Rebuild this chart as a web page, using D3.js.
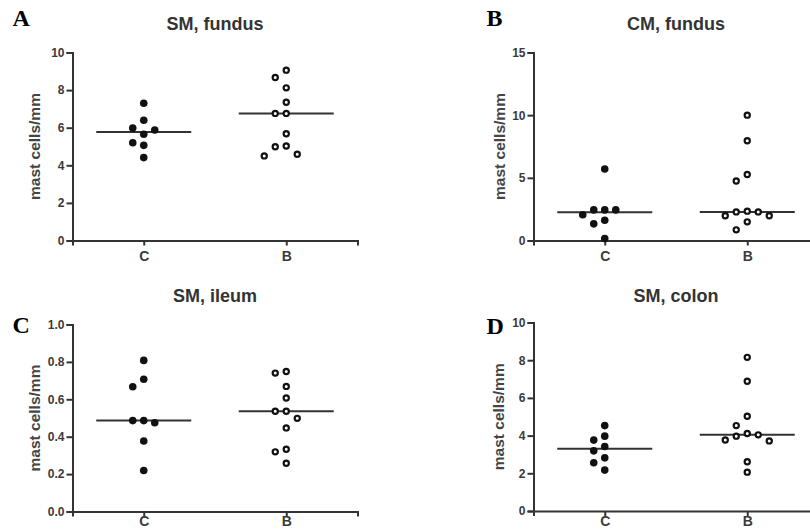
<!DOCTYPE html>
<html>
<head>
<meta charset="utf-8">
<script src="https://cdn.jsdelivr.net/npm/d3@7"></script>
<style>
  body { margin: 0; background: #fff; }
  svg { display: block; }
</style>
</head>
<body>
<svg id="chart" width="810" height="532"></svg>
<script>
// groups on the x axis
var groups = ["C", "B"];
var panelLetters = ["A", "B", "C", "D"];
var panelTitles = ["SM, fundus", "CM, fundus", "SM, ileum", "SM, colon"];
var yLabel = "mast cells/mm";

// tick labels for each y axis
var ticksSmFundus = [0, 2, 4, 6, 8, 10];
var ticksCmFundus = [0, 5, 10, 15];
var ticksSmIleum = [0, 0.2, 0.4, 0.6, 0.8, 1.0];
var ticksSmColon = [0, 2, 4, 6, 8, 10];

// values (mast cells/mm)
var smFundusC = [7.3, 6.4, 5.98, 5.88, 5.65, 5.2, 5.06, 4.41];
var smFundusB = [9.06, 8.67, 8.12, 7.35, 6.76, 6.76, 5.68, 5.03, 4.99, 4.59, 4.5];
var cmFundusC = [5.71, 2.44, 2.44, 2.44, 2.05, 1.62, 1.33, 0.16];
var cmFundusB = [10.0, 7.96, 5.26, 4.75, 2.34, 2.28, 2.28, 1.97, 1.97, 1.49, 0.85];
var smIleumC = [0.808, 0.707, 0.667, 0.486, 0.486, 0.475, 0.377, 0.219];
var smIleumB = [0.749, 0.74, 0.669, 0.607, 0.536, 0.536, 0.498, 0.447, 0.333, 0.319, 0.258];
var smColonC = [4.53, 3.97, 3.76, 3.42, 3.19, 2.82, 2.56, 2.17];
var smColonB = [8.15, 6.88, 5.03, 4.53, 4.11, 4.04, 3.97, 3.77, 3.72, 2.61, 2.06];

var svg = d3.select("#chart");
svg.append("rect").attr("width", 810).attr("height", 532).attr("fill", "#fff");

// panel layout
var panels = [
  { letter: panelLetters[0], title: panelTitles[0], c: smFundusC, b: smFundusB, ticks: ticksSmFundus, fmt: d3.format("d"),
    x0: 72.5, top: 52.5, bottom: 240.5, titleY: 29.5, letterX: 12.5, letterY: 26, labelDx: -32.5, xPad: 6 },
  { letter: panelLetters[1], title: panelTitles[1], c: cmFundusC, b: cmFundusB, ticks: ticksCmFundus, fmt: d3.format("d"),
    x0: 533.5, top: 52.5, bottom: 240.5, titleY: 29.5, letterX: 486.5, letterY: 26, labelDx: -29, xPad: 6 },
  { letter: panelLetters[2], title: panelTitles[2], c: smIleumC, b: smIleumB, ticks: ticksSmIleum, fmt: d3.format(".1f"),
    x0: 72.5, top: 324.5, bottom: 511.5, titleY: 302, letterX: 12.5, letterY: 332.5, labelDx: -32.5, xPad: 0 },
  { letter: panelLetters[3], title: panelTitles[3], c: smColonC, b: smColonB, ticks: ticksSmColon, fmt: d3.format("d"),
    x0: 533.5, top: 322.5, bottom: 511, titleY: 302, letterX: 486.5, letterY: 334, labelDx: -30, xPad: 0 }
];

var axisWidth = 285,
  jitterStep = 11,
  minGap = 10;

// simple beeswarm: put each point in the nearest free column
function swarm(values, y) {
  var order = values.map(function(v, i) { return { v: v, i: i }; })
    .sort(function(a, b) { return b.v - a.v; });
  var placed = [];
  var slots = [];
  var tryOrder = [0, -1, 1, -2, 2, -3, 3];
  order.forEach(function(p) {
    var py = y(p.v);
    var s = tryOrder.find(function(k) {
      return !placed.some(function(q) { return q.slot === k && Math.abs(q.py - py) < minGap; });
    });
    placed.push({ py: py, slot: s });
    slots[p.i] = s;
  });
  return slots;
}

panels.forEach(function(p) {
  var g = svg.append("g");

  var x = d3.scalePoint().domain(groups).range([p.x0, p.x0 + axisWidth]).padding(0.5);
  var y = d3.scaleLinear().domain([0, d3.max(p.ticks)]).range([p.bottom, p.top]);

  // y axis
  var yAxis = g.append("g")
    .attr("transform", "translate(" + p.x0 + ",0)")
    .call(d3.axisLeft(y).tickValues(p.ticks).tickFormat(p.fmt).tickSizeOuter(0).tickSize(6).tickPadding(2));

  // x axis
  var xAxis = g.append("g")
    .attr("transform", "translate(0," + p.bottom + ")")
    .call(d3.axisBottom(x).tickSizeOuter(0).tickSize(5).tickPadding(p.xPad));

  [yAxis, xAxis].forEach(function(a) {
    a.select(".domain").attr("stroke", "#333").attr("stroke-width", 2);
    a.selectAll(".tick line").attr("stroke", "#333").attr("stroke-width", 2);
    a.selectAll(".tick text")
      .attr("fill", "#3a3a3a")
      .attr("font-family", "'Liberation Sans', Arial, sans-serif")
      .attr("font-weight", "bold");
  });
  yAxis.selectAll(".tick text").attr("font-size", 12);
  xAxis.selectAll(".tick text").attr("font-size", 14);

  // title
  g.append("text")
    .attr("x", p.x0 + axisWidth / 2)
    .attr("y", p.titleY)
    .attr("text-anchor", "middle")
    .attr("font-family", "'Liberation Sans', Arial, sans-serif")
    .attr("font-weight", "bold")
    .attr("font-size", 18)
    .attr("fill", "#333")
    .text(p.title);

  // panel letter
  g.append("text")
    .attr("x", p.letterX)
    .attr("y", p.letterY)
    .attr("font-family", "'Liberation Serif', 'Times New Roman', serif")
    .attr("font-weight", "bold")
    .attr("font-size", 24)
    .attr("fill", "#000")
    .text(p.letter);

  // y label
  g.append("text")
    .attr("transform", "translate(" + (p.x0 + p.labelDx) + "," + ((p.top + p.bottom) / 2) + ") rotate(-90)")
    .attr("text-anchor", "middle")
    .attr("font-family", "'Liberation Sans', Arial, sans-serif")
    .attr("font-weight", "bold")
    .attr("font-size", 15.5)
    .attr("fill", "#444")
    .text(yLabel);

  // medians then dots
  [["C", p.c], ["B", p.b]].forEach(function(pair) {
    var name = pair[0], vals = pair[1];
    var cx = x(name);
    var med = d3.median(vals);
    g.append("line")
      .attr("x1", cx - 47.5).attr("x2", cx + 47.5)
      .attr("y1", y(med)).attr("y2", y(med))
      .attr("stroke", "#333").attr("stroke-width", 2);

    var slots = swarm(vals, y);
    var dots = g.selectAll(".dot" + name)
      .data(vals)
      .enter()
      .append("circle")
      .attr("cx", function(d, i) { return cx + slots[i] * jitterStep; })
      .attr("cy", function(d) { return y(d); });

    if (name === "C") {
      dots.attr("r", 3.8).attr("fill", "#111");
    } else {
      dots.attr("r", 2.6).attr("fill", "#fff").attr("stroke", "#111").attr("stroke-width", 2.2);
    }
  });
});
</script>
</body>
</html>
